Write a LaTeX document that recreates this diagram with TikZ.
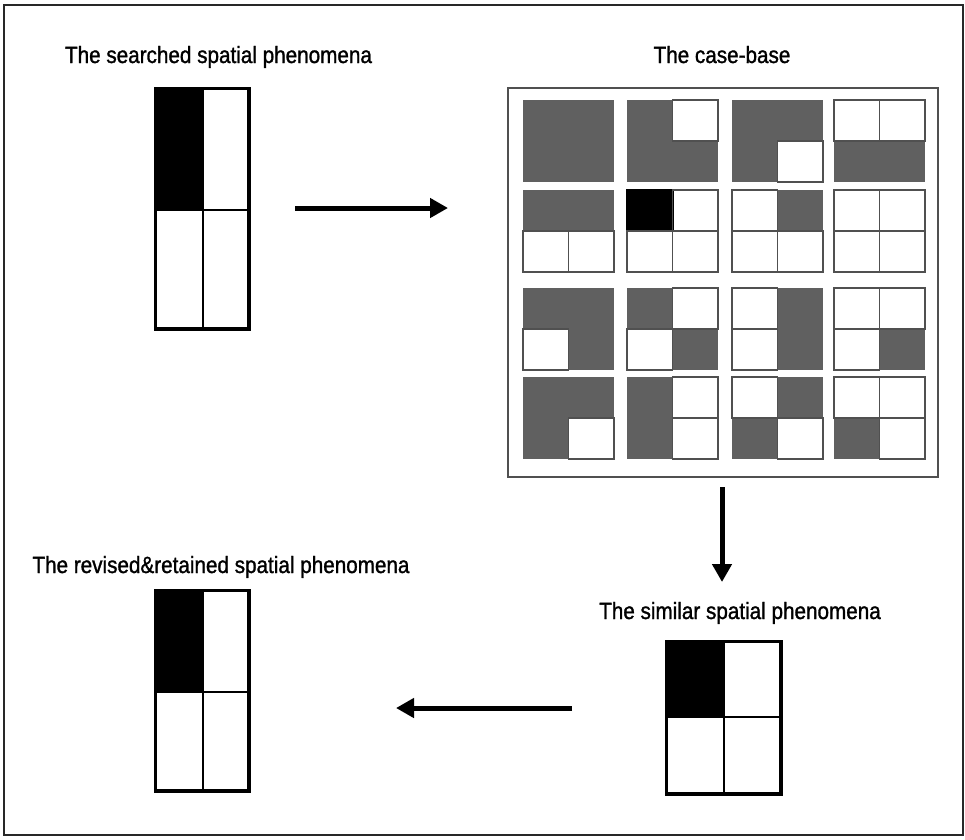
\documentclass[tikz,border=0pt]{standalone}
\usepackage{fontspec}
\setmainfont{Liberation Sans}[FakeStretch=0.88,FakeBold=1.2]
\usetikzlibrary{arrows.meta}
\definecolor{cbgray}{RGB}{96,96,96}
\definecolor{cbline}{RGB}{80,80,80}
\definecolor{framec}{RGB}{40,40,40}
\tikzset{
  qfg/.style={fill=cbgray}, qfw/.style={fill=white}, qfb/.style={fill=black},
  qdg/.style={}, qdw/.style={draw=cbline,line width=1.3pt}, qdb/.style={draw=black,line width=2pt},
  title/.style={font=\fontsize{23.5}{25}\selectfont, anchor=base, inner sep=0pt},
  bigarrow/.style={line width=5pt, -{Triangle[length=18pt,width=19pt]}},
  gridbox/.style={draw=black, line width=2.5pt, inner sep=0pt, rectangle},
  gridline/.style={black, line width=2.5pt},
}
% case-base cell: x y TL TR BL BR (letters g/w/b)
\newcommand\cbcell[6]{%
  \path[qf#3] (#1,#2) rectangle ++(45.5,41);
  \path[qf#4] (#1+45.5,#2) rectangle ++(45.5,41);
  \path[qf#5] (#1,#2+41) rectangle ++(45.5,41);
  \path[qf#6] (#1+45.5,#2+41) rectangle ++(45.5,41);
  \path[qd#3] (#1,#2) rectangle ++(45.5,41);
  \path[qd#4] (#1+45.5,#2) rectangle ++(45.5,41);
  \path[qd#5] (#1,#2+41) rectangle ++(45.5,41);
  \path[qd#6] (#1+45.5,#2+41) rectangle ++(45.5,41);
}
\begin{document}
\begin{tikzpicture}[x=1pt,y=-1pt]
\useasboundingbox (0,0) rectangle (965,839);
\draw[framec, line width=1.5pt] (4,5) rectangle (963,835);

% titles
\node[title] (t1) at (218.5,63) {The searched spatial phenomena};
\node[title] (t2) at (722,63) {The case-base};
\node[title] (t3) at (221,573) {The revised\&retained spatial phenomena};
\node[title] (t4) at (740,619) {The similar spatial phenomena};

% searched grid
\node[gridbox, minimum width=92pt, minimum height=239pt] (g1) at (202,208.5) {};
\fill[black] (g1.north west) rectangle (203,210);
\draw[gridline] (g1.north west) rectangle (g1.south east);
\draw[gridline] (203,89) -- (203,328) (156,210) -- (248,210);

% case base frame
\node[draw=cbline, line width=2pt, minimum width=430pt, minimum height=389pt, inner sep=0pt] (cb) at (722.5,282.5) {};
% row 1
\cbcell{523}{100}{g}{g}{g}{g}
\cbcell{627}{100}{g}{w}{g}{g}
\cbcell{732}{100}{g}{g}{g}{w}
\cbcell{834}{100}{w}{w}{g}{g}
% row 2
\cbcell{523}{190}{g}{g}{w}{w}
\cbcell{627}{190}{b}{w}{w}{w}
\cbcell{732}{190}{w}{g}{w}{w}
\cbcell{834}{190}{w}{w}{w}{w}
% row 3
\cbcell{523}{288}{g}{g}{w}{g}
\cbcell{627}{288}{g}{w}{w}{g}
\cbcell{732}{288}{w}{g}{w}{g}
\cbcell{834}{288}{w}{w}{w}{g}
% row 4
\cbcell{523}{377}{g}{g}{g}{w}
\cbcell{627}{377}{g}{w}{g}{w}
\cbcell{732}{377}{w}{g}{g}{w}
\cbcell{834}{377}{w}{w}{g}{w}

% similar grid
\node[gridbox, minimum width=113pt, minimum height=151pt] (g2) at (723.5,717.5) {};
\fill[black] (g2.north west) rectangle (724,717);
\draw[gridline] (g2.north west) rectangle (g2.south east);
\draw[gridline] (724,642) -- (724,793) (667,717) -- (780,717);

% revised grid
\node[gridbox, minimum width=92pt, minimum height=199pt] (g3) at (202,690.5) {};
\fill[black] (g3.north west) rectangle (203,692);
\draw[gridline] (g3.north west) rectangle (g3.south east);
\draw[gridline] (203,591) -- (203,790) (156,692) -- (248,692);

% arrows
\coordinate (a1s) at (295,208);
\coordinate (a1e) at (448,208);
\coordinate (a2s) at (722,487);
\coordinate (a2e) at (722,582);
\coordinate (a3s) at (572,708);
\coordinate (a3e) at (396,708);
\draw[bigarrow] (a1s) -- (a1e);
\draw[bigarrow] (a2s) -- (a2e);
\draw[bigarrow] (a3s) -- (a3e);
\end{tikzpicture}
\end{document}
